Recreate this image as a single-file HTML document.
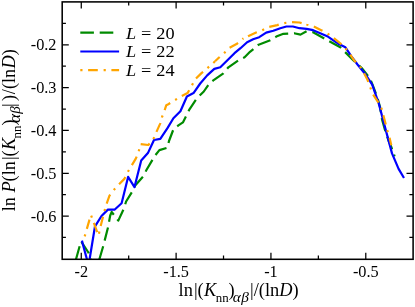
<!DOCTYPE html>
<html><head><meta charset="utf-8"><title>plot</title>
<style>
html,body{margin:0;padding:0;background:#fff;}
body{width:415px;height:307px;overflow:hidden;}
svg{display:block;will-change:transform;}
.t{filter:grayscale(1);}
text{font-family:"Liberation Serif",serif;fill:#000;}
.i{font-style:italic;}
</style></head><body>
<svg width="415" height="307" viewBox="0 0 415 307">
<rect width="415" height="307" fill="#fff"/>
<defs><clipPath id="c"><rect x="62.2" y="1.9" width="350.90000000000003" height="257.40000000000003"/></clipPath></defs>
<g clip-path="url(#c)" fill="none" stroke-width="2.2" stroke-linejoin="round">
<polyline stroke="#008b00" stroke-dasharray="13.6 5.8" stroke-dashoffset="0.00" points="76.0,259.3 81.0,241.3 88.4,252.5 90.9,259.3"/><polyline stroke="#008b00" stroke-dasharray="13.6 5.8" stroke-dashoffset="0.00" points="99.4,259.3 99.4,259.3 103.4,245.5 108.0,227.4 110.2,215.5 111.7,212.0 118.3,220.6 123.8,208.7 126.1,201.5 133.2,190.0 135.2,185.4 143.5,176.0 146.3,170.3 153.4,158.2 155.4,155.1 159.4,150.1 167.5,147.7 169.0,141.0 173.4,129.4 178.4,125.4 182.9,122.4 186.5,115.3 189.5,109.3 196.6,98.6 203.8,91.5 209.3,83.5 213.3,80.4 223.4,73.4 228.4,67.3 238.5,60.3 244.6,57.2 250.0,51.8 253.1,49.3 258.6,44.7 270.3,40.3 276.3,36.6 283.4,33.8 288.0,33.6 294.1,33.2 300.5,34.6 306.6,31.2 313.1,32.2 323.8,38.2 329.3,41.3 340.3,47.3 345.4,52.4 353.5,60.4 361.7,68.0 367.6,75.4 371.0,81.0 373.3,86.6 377.0,96.5 380.0,106.8 382.1,119.8 384.9,129.6 388.5,140.5 391.4,147.2 394.6,156.4"/>
<polyline stroke="#0000ff" points="81.9,240.6 86.9,259.3"/><polyline stroke="#0000ff" points="89.6,259.3 95.0,226.3 101.5,216.0 107.9,209.6 114.5,209.7 121.6,203.3 128.1,176.9 134.5,187.1 141.2,160.6 147.9,153.1 154.0,140.0 160.3,138.9 167.3,128.4 173.4,118.3 180.4,111.3 186.9,96.5 193.5,93.1 200.2,83.5 207.2,75.4 214.3,68.9 220.3,67.3 227.4,60.3 234.5,53.2 240.5,48.2 247.1,42.3 253.1,39.3 259.2,37.2 266.2,32.6 273.3,30.8 280.3,28.2 286.4,26.5 292.9,26.5 299.5,28.2 306.6,28.8 313.1,30.2 320.2,33.2 327.2,36.2 333.3,40.3 339.3,44.3 345.4,47.3 351.4,56.4 357.5,64.5 365.6,74.5 372.2,84.7 378.8,103.6 385.4,128.6 392.0,153.4 398.6,168.9 404.0,178.0"/>
<polyline stroke="#ffa500" stroke-dasharray="2.1 5.7 9.7 5.8" stroke-dashoffset="0.00" points="84.7,236.4 90.9,214.8 98.5,235.6 100.6,226.4 104.3,211.5 106.5,204.0 109.5,195.7 113.6,190.1 118.8,184.5 124.4,178.9 127.5,172.4 131.2,166.2 135.8,158.6 138.6,152.1 140.3,144.0 148.3,145.0 153.2,139.5 156.2,132.5 160.3,123.4 161.9,117.3 164.3,111.3 166.3,105.2 168.3,104.2 174.8,100.2 181.4,96.1 187.5,93.1 190.5,88.0 195.1,79.4 201.2,73.4 207.2,68.3 212.3,63.9 215.0,61.3"/><polyline stroke="#ffa500" stroke-dasharray="2.1 5.7 9.7 5.8" stroke-dashoffset="11.12" points="215.0,61.3 218.3,58.2 223.4,53.8 229.4,47.8 236.5,44.1 242.5,39.1 243.5,38.6"/><polyline stroke="#ffa500" stroke-dasharray="2.1 5.7 9.7 5.8" stroke-dashoffset="2.73" points="243.5,38.6 248.6,36.0 256.1,32.6 262.2,30.2 268.2,27.1 277.3,25.1 284.0,23.1 290.4,22.1 299.5,22.5 303.0,23.5"/><polyline stroke="#ffa500" stroke-dasharray="2.1 5.7 9.7 5.8" stroke-dashoffset="19.83" points="303.0,23.5 306.5,24.5 313.1,26.1 321.2,30.2 327.2,33.2 333.3,37.8 340.3,43.3 344.8,47.3 349.4,53.4 354.1,60.4 359.8,66.1 363.7,72.4 367.6,80.0 370.0,86.6 372.7,93.8 377.1,100.6 381.0,106.5 383.0,113.9 385.2,122.2 386.8,129.1 389.1,135.6 391.3,145.2"/>
</g>
<rect x="62.2" y="1.9" width="350.90000000000003" height="257.40000000000003" fill="none" stroke="#000" stroke-width="1.55"/>
<path d="M81.27,259.3v-6.6M81.27,1.9v6.6M128.69,259.3v-3.7M128.69,1.9v3.7M176.11,259.3v-6.6M176.11,1.9v6.6M223.52,259.3v-3.7M223.52,1.9v3.7M270.94,259.3v-6.6M270.94,1.9v6.6M318.36,259.3v-3.7M318.36,1.9v3.7M365.78,259.3v-6.6M365.78,1.9v6.6M62.2,237.49h3.7M413.1,237.49h-3.7M62.2,216.08h6.6M413.1,216.08h-6.6M62.2,194.67h3.7M413.1,194.67h-3.7M62.2,173.27h6.6M413.1,173.27h-6.6M62.2,151.86h3.7M413.1,151.86h-3.7M62.2,130.45h6.6M413.1,130.45h-6.6M62.2,109.04h3.7M413.1,109.04h-3.7M62.2,87.63h6.6M413.1,87.63h-6.6M62.2,66.22h3.7M413.1,66.22h-3.7M62.2,44.82h6.6M413.1,44.82h-6.6M62.2,23.41h3.7M413.1,23.41h-3.7" stroke="#000" stroke-width="1.25" fill="none"/>
<g fill="none" stroke-width="2.2">
<path d="M80.3,32.7H119.0" stroke="#008b00" stroke-dasharray="13.6 5.8"/>
<path d="M80.3,51.5H119.1" stroke="#0000ff"/>
<path d="M80.3,70.2H119.1" stroke="#ffa500" stroke-dasharray="2.2 5.6 9.7 5.8"/>
</g>
<g class="t"><g font-size="16.3"><text x="81.27" y="276.6" text-anchor="middle">-2</text><text x="176.11" y="276.6" text-anchor="middle">-1.5</text><text x="270.94" y="276.6" text-anchor="middle">-1</text><text x="365.78" y="276.6" text-anchor="middle">-0.5</text><text x="56.5" y="50.42" text-anchor="end">-0.2</text><text x="56.5" y="93.23" text-anchor="end">-0.3</text><text x="56.5" y="136.05" text-anchor="end">-0.4</text><text x="56.5" y="178.87" text-anchor="end">-0.5</text><text x="56.5" y="221.68" text-anchor="end">-0.6</text></g>
<g font-size="17.5" letter-spacing="0.15">
<text transform="translate(126,38.5) scale(1.045,1)"><tspan class="i">L</tspan> = 20</text>
<text transform="translate(126,57.3) scale(1.045,1)"><tspan class="i">L</tspan> = 22</text>
<text transform="translate(126,76.1) scale(1.045,1)"><tspan class="i">L</tspan> = 24</text>
</g>
<text font-size="18.4" x="178.6" y="296.3">ln<tspan dx="1">|(</tspan><tspan class="i" dx="0.3">K</tspan><tspan font-size="12.9" dx="-0.6" dy="5.7">nn</tspan><tspan dy="-5.7">)</tspan><tspan class="i" font-size="15.3" dx="-1.9" dy="5.8" letter-spacing="0.3">αβ</tspan><tspan dy="-5.8" dx="0.9">|/(ln</tspan><tspan class="i">D</tspan>)</text>
<text font-size="18.25" transform="translate(14.5,211.3) rotate(-90)">ln <tspan class="i">P</tspan>(ln<tspan dx="1">|(</tspan><tspan class="i" dx="0.3">K</tspan><tspan font-size="12.9" dx="-0.6" dy="6.9">nn</tspan><tspan dy="-6.9">)</tspan><tspan class="i" font-size="16.8" dx="-3.3" dy="5.8">α</tspan><tspan class="i" font-size="15.3" dx="0.2">β</tspan><tspan dy="-5.8" dx="-0.9">|</tspan><tspan dx="2.3">)</tspan><tspan dx="0.9">/(ln</tspan><tspan class="i" dx="0.3">D</tspan>)</text>
</g>
</svg>
</body></html>
